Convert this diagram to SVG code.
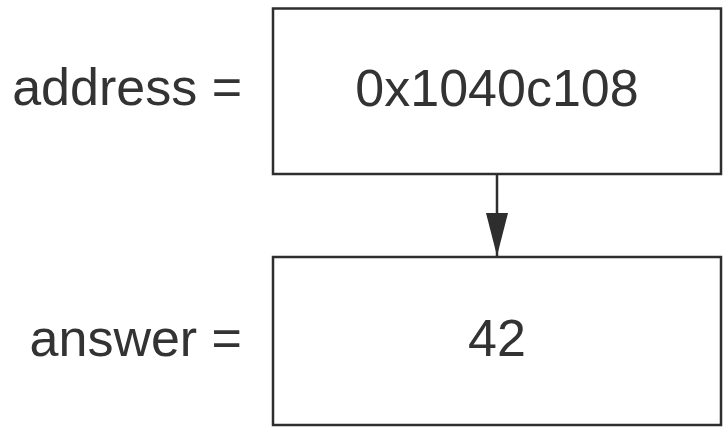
<svg xmlns="http://www.w3.org/2000/svg" width="728" height="434" viewBox="0 0 728 434">
<style>
.box{fill:#fff;stroke:#2e2e2e;stroke-width:2.5}
.t{font-family:"Liberation Sans",Arial,sans-serif;font-size:52px;fill:#333}
.c{text-anchor:middle}
.r{text-anchor:end}
</style>
<defs>
<marker id="ah" markerUnits="userSpaceOnUse" markerWidth="43" markerHeight="22" refX="43" refY="11" orient="auto" viewBox="0 0 43 22">
<path d="M0,0 L43,11 L0,22 Z" fill="#2e2e2e"/>
</marker>
</defs>
<rect width="728" height="434" fill="#fff"/>
<g id="address">
<text class="t r" x="242" y="105">address =</text>
<rect class="box" x="273" y="8.5" width="448" height="165.5"/>
<text class="t c" x="497" y="106">0x1040c108</text>
</g>
<g id="answer">
<text class="t r" x="242" y="356">answer =</text>
<rect class="box" x="273" y="257" width="448" height="168"/>
<text class="t c" x="497" y="356">42</text>
</g>
<g id="connectors">
<line x1="497" y1="174" x2="497" y2="256" stroke="#2e2e2e" stroke-width="2.5" marker-end="url(#ah)"/>
</g>
</svg>
